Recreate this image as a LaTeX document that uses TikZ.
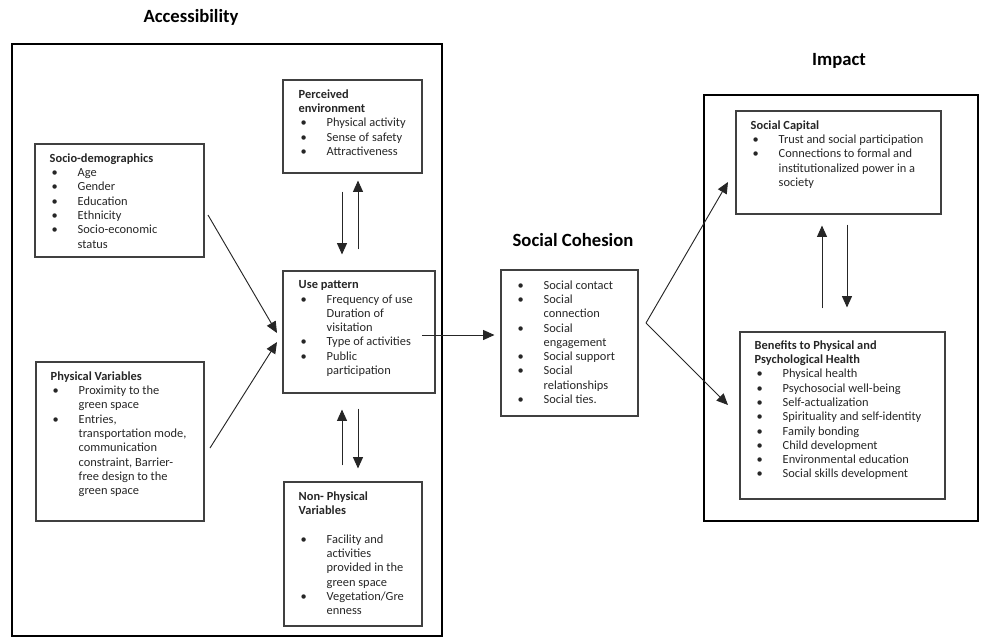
\documentclass[tikz,border=0pt]{standalone}
\usepackage{fontspec}
\setmainfont{Carlito}
\usetikzlibrary{arrows.meta,fit,calc}
\newcommand\bul[1]{\makebox[21pt][l]{\hspace{1.5pt}\textbullet}#1}
\newcommand\cnt[1]{\makebox[21pt]{}#1}
\begin{document}
\begin{tikzpicture}[x=0.75pt,y=-0.75pt,
 box/.style={draw=black!75,line width=0.8pt,inner sep=0pt},
 outer/.style={draw=black,line width=1.5pt,inner sep=0pt},
 txt/.style={anchor=north west,inner sep=0pt,align=left,font=\fontsize{9.3}{10.7}\selectfont,text=black!85},
 ttl/.style={font=\fontsize{14}{16}\selectfont\bfseries,text=black},
 arr/.style={draw=black!85,line width=0.7pt,-{Triangle[length=8.5pt,width=7.5pt]}}]
\useasboundingbox (0,0) rectangle (983,637);
% titles
\node[ttl] (tacc) at (191,17) {Accessibility};
\node[ttl] (tcoh) at (573,240) {Social Cohesion};
\node[ttl] (timp) at (839,61) {Impact};
% outer boxes
\node[outer, fit={(12,44) (442,636)}] (acc) {};
\node[outer, fit={(704,95) (978,521)}] (imp) {};
% inner boxes
\node[box, fit={(283,80) (422,173)}] (pe) {};
\node[box, fit={(35,144) (204,257)}] (sd) {};
\node[box, fit={(283,271) (435,393)}] (up) {};
\node[box, fit={(36,362) (204,521)}] (pv) {};
\node[box, fit={(284,482) (422,626)}] (np) {};
\node[box, fit={(501,270) (638,416)}] (coh) {};
\node[box, fit={(736,111) (941,214)}] (sc) {};
\node[box, fit={(740,332) (945,499)}] (ben) {};
% texts
\node[txt] (pet) at ($(pe.north west)+(16,10)$) {\textbf{Perceived}\\\textbf{environment}\\\bul{Physical activity}\\\bul{Sense of safety}\\\bul{Attractiveness}};
\node[txt] (sdt) at ($(sd.north west)+(15,10)$) {\textbf{Socio-demographics}\\\bul{Age}\\\bul{Gender}\\\bul{Education}\\\bul{Ethnicity}\\\bul{Socio-economic}\\\cnt{status}};
\node[txt] (upt) at ($(up.north west)+(16,10)$) {\textbf{Use pattern}\\\bul{Frequency of use}\\\cnt{Duration of}\\\cnt{visitation}\\\bul{Type of activities}\\\bul{Public}\\\cnt{participation}};
\node[txt] (pvt) at ($(pv.north west)+(15,10)$) {\textbf{Physical Variables}\\\bul{Proximity to the}\\\cnt{green space}\\\bul{Entries,}\\\cnt{transportation mode,}\\\cnt{communication}\\\cnt{constraint, Barrier-}\\\cnt{free design to the}\\\cnt{green space}};
\node[txt] (npt) at ($(np.north west)+(15,10)$) {\textbf{Non- Physical}\\\textbf{Variables}\\\mbox{}\\\bul{Facility and}\\\cnt{activities}\\\cnt{provided in the}\\\cnt{green space}\\\bul{Vegetation/Gre}\\\cnt{enness}};
\node[txt] (coht) at ($(coh.north west)+(15,11)$) {\bul{Social contact}\\\bul{Social}\\\cnt{connection}\\\bul{Social}\\\cnt{engagement}\\\bul{Social support}\\\bul{Social}\\\cnt{relationships}\\\bul{Social ties.}};
\node[txt] (sct) at ($(sc.north west)+(15,10)$) {\textbf{Social Capital}\\\bul{Trust and social participation}\\\bul{Connections to formal and}\\\cnt{institutionalized power in a}\\\cnt{society}};
\node[txt] (bent) at ($(ben.north west)+(15,9)$) {\textbf{Benefits to Physical and}\\\textbf{Psychological Health}\\\bul{Physical health}\\\bul{Psychosocial well-being}\\\bul{Self-actualization}\\\bul{Spirituality and self-identity}\\\bul{Family bonding}\\\bul{Child development}\\\bul{Environmental education}\\\bul{Social skills development}};
% helper coordinates
\coordinate (c1) at (342,0);
\coordinate (c2) at (358,0);
\coordinate (c3) at (822,0);
\coordinate (c4) at (847,0);
\coordinate (s1) at (208,215);
\coordinate (t1) at (277,333);
\coordinate (s2) at (210,448);
\coordinate (t2) at (277,342);
\coordinate (uo) at (422,335);
\coordinate (sp) at (646,323);
\coordinate (t3) at (728,182);
\coordinate (t4) at (728,405);
% connectors
\draw[arr, shorten <=13.5pt, shorten >=12pt] (pe.south -| c1) -- (up.north -| c1);
\draw[arr, shorten <=15.75pt, shorten >=5.25pt] (up.north -| c2) -- (pe.south -| c2);
\draw[arr, shorten <=12pt, shorten >=12pt] (np.north -| c1) -- (up.south -| c1);
\draw[arr, shorten <=11.25pt, shorten >=9.75pt] (up.south -| c2) -- (np.north -| c2);
\draw[arr, shorten <=17.25pt, shorten >=8.25pt] (ben.north -| c3) -- (sc.south -| c3);
\draw[arr, shorten <=7.5pt, shorten >=18pt] (sc.south -| c4) -- (ben.north -| c4);
\draw[arr] (s1) -- (t1);
\draw[arr] (s2) -- (t2);
\draw[arr, shorten >=4.5pt] (uo) -- (coh.west |- uo);
\draw[arr] (sp) -- (t3);
\draw[arr] (sp) -- (t4);
\end{tikzpicture}
\end{document}
